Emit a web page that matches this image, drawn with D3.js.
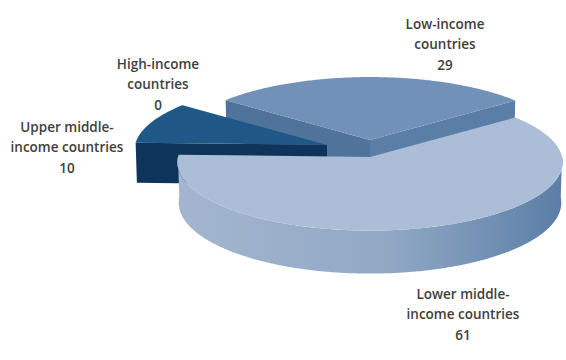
<!DOCTYPE html>
<html>
<head>
<meta charset="utf-8">
<script src="https://cdn.jsdelivr.net/npm/d3@7"></script>
<style>
  body { margin: 0; background: #fff; }
  text { font-family: "Open Sans", sans-serif; }
</style>
</head>
<body>
<script>
// data
const categories = ['Low-income countries', 'Lower middle-income countries', 'Upper middle-income countries', 'High-income countries']
const values = [29, 61, 10, 0]
const labelLines = [
  ['Low-income', 'countries'],
  ['Lower middle-', 'income countries'],
  ['Upper middle-', 'income countries'],
  ['High-income', 'countries']
]

let width = 566,
  height = 360,
  radius = 192,       // horizontal radius in px
  tilt = 20.7 * Math.PI / 180,
  focal = 12,         // perspective distance, in radii
  thick = 0.225,      // slice thickness, in radii
  startDeg = -52

// per slice look: colours, explode position, label spot
let looks = [
  { top: '#7191b9', wall: '#5b7ea6', wall2: '#50739c', cx: 370, cy: 140, lx: 445, ly: 25 },
  { top: '#acbed7', wall: 'url(#lmWall)', wall2: '#8ea5c2', cx: 370, cy: 157, lx: 463, ly: 295 },
  { top: '#1f5787', wall: '#0e3459', wall2: '#0e3459', cx: 327, cy: 145, lx: 67, ly: 128 },
  { top: '#7191b9', wall: '#5b7ea6', wall2: '#5b7ea6', cx: 330, cy: 140, lx: 158, ly: 65 }
]

let svg = d3.select('body').append('svg')
  .attr('width', width)
  .attr('height', height)

let grad = svg.append('defs').append('linearGradient')
  .attr('id', 'lmWall')
  .attr('gradientUnits', 'userSpaceOnUse')
  .attr('x1', 177).attr('x2', 563).attr('y1', 0).attr('y2', 0)
grad.append('stop').attr('offset', 0).attr('stop-color', '#a4b6cf')
grad.append('stop').attr('offset', 0.55).attr('stop-color', '#91a8c5')
grad.append('stop').attr('offset', 1).attr('stop-color', '#5b7ea6')

let a0 = startDeg * Math.PI / 180
let pie = d3.pie().sort(null).value(d => d)
  .startAngle(a0).endAngle(a0 + 2 * Math.PI)
let arcs = pie(values)

// project a point of the disc (angle a, radius r, depth h) to the screen
function proj (cx, cy, a, r, h) {
  let X = r * Math.sin(a), Z = r * Math.cos(a), Y = -h
  let up = Y * Math.cos(tilt) + Z * Math.sin(tilt)
  let w = Z * Math.cos(tilt) - Y * Math.sin(tilt)
  let k = focal / (focal + w)
  return [cx + radius * X * k, cy - radius * up * k]
}

function arcPts (cx, cy, s, e, h) {
  let n = Math.max(2, Math.ceil(Math.abs(e - s) / 0.01))
  return d3.range(n + 1).map(i => proj(cx, cy, s + (e - s) * i / n, 1, h))
}

let line = d3.line()

let order = d3.range(arcs.length)
  .filter(i => values[i] > 0)
  .sort((a, b) => looks[a].cy - looks[b].cy)

order.forEach(i => {
  let d = arcs[i], lk = looks[i]
  let g = svg.append('g')
  let s = d.startAngle, e = d.endAngle
  let c0 = proj(lk.cx, lk.cy, 0, 0, 0), c1 = proj(lk.cx, lk.cy, 0, 0, thick)

  // radial walls facing the viewer
  ;[[s, -Math.PI / 2], [e, Math.PI / 2]].forEach(([a, off]) => {
    if (Math.cos(a + off) >= 0) return
    let p0 = proj(lk.cx, lk.cy, a, 1, 0), p1 = proj(lk.cx, lk.cy, a, 1, thick)
    g.append('path')
      .attr('d', line([c0, p0, p1, c1]) + 'Z')
      .attr('fill', a === s ? lk.wall2 : lk.wall)
  })

  // outer wall, front half only
  let fs = Math.max(s, Math.PI / 2), fe = Math.min(e, 3 * Math.PI / 2)
  if (fe > fs) {
    let topE = arcPts(lk.cx, lk.cy, fs, fe, 0)
    let botE = arcPts(lk.cx, lk.cy, fs, fe, thick).reverse()
    g.append('path')
      .attr('d', line(topE.concat(botE)) + 'Z')
      .attr('fill', lk.wall)
  }

  // top
  g.append('path')
    .attr('d', line([c0].concat(arcPts(lk.cx, lk.cy, s, e, 0))) + 'Z')
    .attr('fill', lk.top)
})

// labels
arcs.forEach((d, i) => {
  let lk = looks[i]
  let t = svg.append('text')
    .attr('text-anchor', 'middle')
    .attr('fill', '#404040')
    .attr('font-size', 13.5)
    .attr('font-weight', 600)
  labelLines[i].concat([String(values[i])]).forEach((s, j) => {
    t.append('tspan')
      .attr('x', lk.lx)
      .attr('y', lk.ly + j * 20.5)
      .attr('dominant-baseline', 'middle')
      .text(s)
  })
})
</script>
</body>
</html>
